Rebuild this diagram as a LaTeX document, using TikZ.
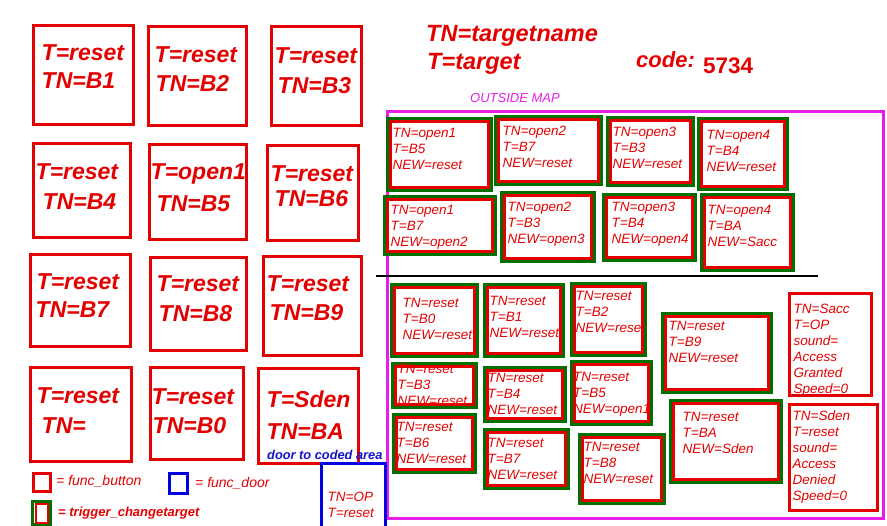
\documentclass[tikz,border=0pt]{standalone}
\usepackage{fontspec}
\setmainfont{Liberation Sans}
\definecolor{mred}{RGB}{228,0,0}
\definecolor{mgreen}{RGB}{0,112,0}
\definecolor{mmag}{RGB}{232,30,232}
\definecolor{mblue}{RGB}{0,0,225}
\definecolor{tblue}{RGB}{20,20,205}
\tikzset{
  big/.style={font=\fontsize{23}{27}\selectfont\bfseries\itshape, text=mred, anchor=base west, inner sep=0pt, xshift=2.5pt},
  head/.style={font=\fontsize{23.5}{27}\selectfont\bfseries\itshape, text=mred, anchor=base west, inner sep=0pt},
  sm/.style={font=\fontsize{13.5}{16}\selectfont\itshape, text=mred, anchor=north west, inner sep=0pt, align=left, xshift=2pt},
  leg/.style={font=\fontsize{14}{16}\selectfont\itshape, text=mred, anchor=base west, inner sep=0pt},
  gline/.style={draw=mgreen, line width=3pt},
  rline/.style={draw=mred, line width=3pt},
  rbox/.style={draw=mred, line width=3.2pt},
  bbox/.style={draw=mblue, line width=3pt},
  mline/.style={draw=mmag, line width=3pt},
}
\newcommand{\trig}[4]{%
  \draw[gline] (#1+1.5,#2+1.5) rectangle (#3-1.5,#4-1.5);
  \draw[rline] (#1+4.5,#2+4.5) rectangle (#3-4.5,#4-4.5);}
\newcommand{\lbox}[4]{%
  \draw[rbox] (#1+1.6,#2+1.6) rectangle (#3-1.6,#4-1.6);}
\begin{document}
\begin{tikzpicture}[x=1pt,y=-1pt]
\useasboundingbox (0,0) rectangle (887,526);
\clip (0,0) rectangle (887,526);
\fill[white] (0,0) rectangle (887,526);

% ---------- left grid of func_buttons ----------
\lbox{32}{24}{135}{126}
\lbox{147}{25}{248}{127}
\lbox{270}{25}{363}{127}
\lbox{32}{142}{132}{239}
\lbox{148}{143}{248}{241}
\lbox{266}{144}{360}{242}
\lbox{29}{253}{132}{348}
\lbox{149}{256}{248}{352}
\lbox{262}{255}{363}{357}
\lbox{29}{366}{133}{463}
\lbox{149}{366}{245}{461}
\lbox{257}{367}{360}{465}

\node[big] (b1a) at (39,60.5) {T=reset};
\node[big] (b1b) at (39,89) {TN=B1};
\node[big] (b2a) at (152,63) {T=reset};
\node[big] (b2b) at (153,92) {TN=B2};
\node[big] (b3a) at (272,64) {T=reset};
\node[big] (b3b) at (275,94) {TN=B3};
\node[big] (b4a) at (33,180) {T=reset};
\node[big] (b4b) at (40,210) {TN=B4};
\node[big] (b5a) at (148,180) {T=open1};
\node[big] (b5b) at (154,212) {TN=B5};
\node[big] (b6a) at (268,182) {T=reset};
\node[big] (b6b) at (272,207) {TN=B6};
\node[big] (b7a) at (34,290) {T=reset};
\node[big] (b7b) at (33,318) {TN=B7};
\node[big] (b8a) at (154,292) {T=reset};
\node[big] (b8b) at (156,322) {TN=B8};
\node[big] (b9a) at (264,292) {T=reset};
\node[big] (b9b) at (267,321) {TN=B9};
\node[big] (bxa) at (34,404) {T=reset};
\node[big] (bxb) at (39,434) {TN=};
\node[big] (b0a) at (149,405) {T=reset};
\node[big] (b0b) at (150,434) {TN=B0};
\node[big] (baa) at (264,408) {T=Sden};
\node[big] (bab) at (264,440) {TN=BA};

\node[font=\fontsize{12.8}{15}\selectfont\bfseries\itshape, text=tblue, anchor=base west, inner sep=0pt] (door) at (267,460) {door to coded area};

% ---------- header ----------
\node[head] (hdtn) at (426,42) {TN=targetname};
\node[head] (hdt) at (427,70) {T=target};
\node[font=\fontsize{22}{26}\selectfont\bfseries\itshape, text=mred, anchor=base west, inner sep=0pt] (code) at (636,68) {code:};
\node[font=\fontsize{22.5}{26}\selectfont\bfseries, text=mred, anchor=base west, inner sep=0pt] (num) at (703,74) {5734};
\node[font=\fontsize{13}{15}\selectfont\itshape, text=mmag, anchor=base west, inner sep=0pt] (outside) at (470,103) {OUTSIDE MAP};

% ---------- outside map area ----------
\draw[mline] (387.5,112) rectangle (883,518.5);

\trig{386}{117}{493}{192}
\trig{494}{115}{603}{186}
\trig{606}{116}{695}{187}
\trig{697}{117}{789}{191}
\trig{383}{195}{497}{256}
\trig{500}{191}{596}{263}
\trig{602}{193}{697}{262}
\trig{700}{193}{795}{272}
\trig{390}{283}{479}{358}
\trig{483}{283}{565}{358}
\trig{570}{282}{647}{357}
\trig{391}{362}{478}{409}
\trig{483}{366}{567}{423}
\trig{570}{360}{653}{426}
\trig{392}{413}{477}{474}
\trig{483}{428}{570}{490}
\trig{578}{433}{666}{505}
\trig{661}{312}{773}{394}
\trig{669}{399}{783}{484}
\draw[draw=mred, line width=3pt] (789.5,293.5) rectangle (871.5,395.5);
\draw[draw=mred, line width=3pt] (789.5,404.5) rectangle (877.5,510.5);

\node[sm] (r1) at (390.5,128.2) {TN=open1\\T=B5\\NEW=reset};
\node[sm] (r2) at (500.5,126.2) {TN=open2\\T=B7\\NEW=reset};
\node[sm] (r3) at (610.5,127.2) {TN=open3\\T=B3\\NEW=reset};
\node[sm] (r4) at (704.5,130.2) {TN=open4\\T=B4\\NEW=reset};
\node[sm] (r5) at (388.5,205.2) {TN=open1\\T=B7\\NEW=open2};
\node[sm] (r6) at (505.5,202.2) {TN=open2\\T=B3\\NEW=open3};
\node[sm] (r7) at (609.5,202.2) {TN=open3\\T=B4\\NEW=open4};
\node[sm] (r8) at (705.5,205.2) {TN=open4\\T=BA\\NEW=Sacc};

\node[sm] (q0) at (400.5,298.2) {TN=reset\\T=B0\\NEW=reset};
\node[sm] (q1) at (487.5,296.2) {TN=reset\\T=B1\\NEW=reset};
\node[sm] (q2) at (573.5,291.2) {TN=reset\\T=B2\\NEW=reset};
\node[sm] (q3) at (395.5,364.2) {TN=reset\\T=B3\\NEW=reset};
\node[sm] (q4) at (485.5,373.2) {TN=reset\\T=B4\\NEW=reset};
\node[sm] (q5) at (571,372.2) {TN=reset\\T=B5\\NEW=open1};
\node[sm] (q6) at (394.5,422.2) {TN=reset\\T=B6\\NEW=reset};
\node[sm] (q7) at (485.5,438.2) {TN=reset\\T=B7\\NEW=reset};
\node[sm] (q8) at (581.5,442.2) {TN=reset\\T=B8\\NEW=reset};
\node[sm] (q9) at (666.5,321.2) {TN=reset\\T=B9\\NEW=reset};
\node[sm] (qa) at (680.5,412.2) {TN=reset\\T=BA\\NEW=Sden};
\node[sm] (sacc) at (791.5,304.2) {TN=Sacc\\T=OP\\sound=\\Access\\Granted\\Speed=0};
\node[sm] (sden) at (790.5,410.2) {TN=Sden\\T=reset\\sound=\\Access\\Denied\\Speed=0};

% separator line
\coordinate (sepL) at (376,276);
\coordinate (sepR) at (818,276);
\draw[line width=2.6pt] (sepL) -- (sepR);

% ---------- func_door (OP) ----------
\draw[bbox] (321.5,540) -- (321.5,463.5) -- (385.5,463.5) -- (385.5,540);
\node[sm] (op) at (325.5,492.2) {TN=OP\\T=reset};

% ---------- legend ----------
\draw[draw=mred, line width=3pt] (33.5,473.5) rectangle (50.5,491.5);
\node[leg] (lbtn) at (56,486) {= func\_button};
\draw[bbox] (169.5,473.5) rectangle (187.5,493.5);
\node[leg] (ldoor) at (195,488) {= func\_door};
\draw[gline] (32.5,501.5) rectangle (50.5,525);
\draw[draw=mred, line width=2pt] (35.5,504.5) rectangle (47.5,523);
\node[leg, font=\fontsize{13}{16}\selectfont\bfseries\itshape] (ltrig) at (58,517) {= trigger\_changetarget};
\end{tikzpicture}
\end{document}
